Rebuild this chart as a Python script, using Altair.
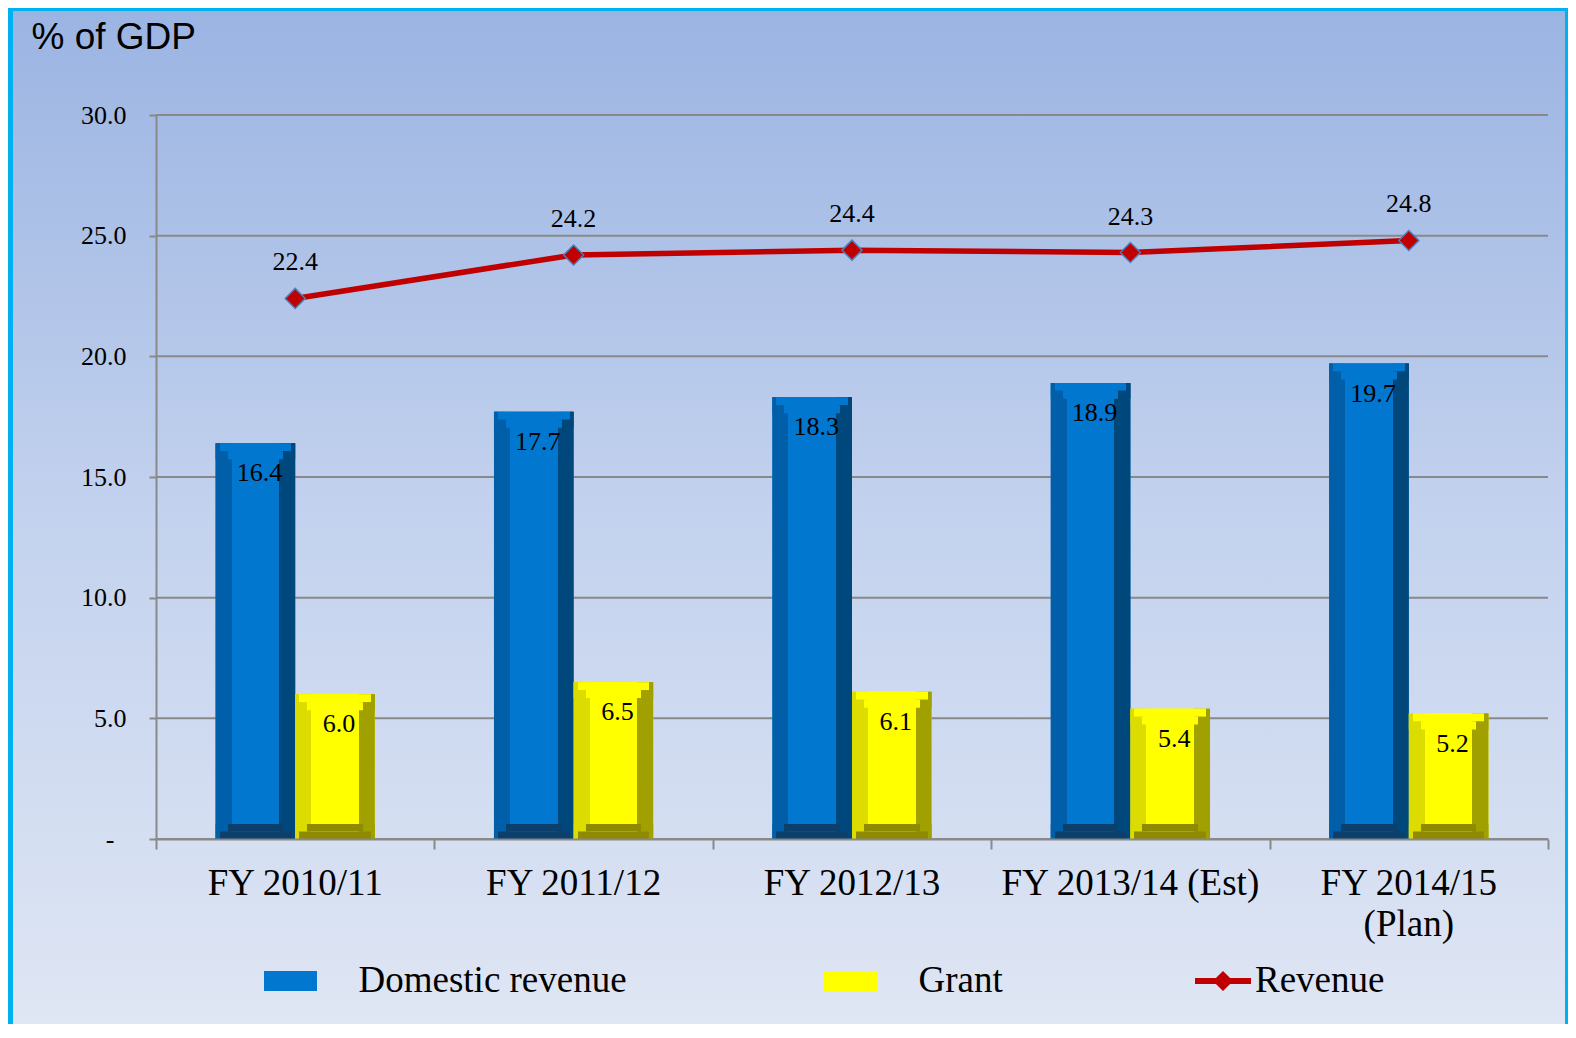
import altair as alt
import pandas as pd

# ---------------- data ----------------
categories = ["FY 2010/11", "FY 2011/12", "FY 2012/13", "FY 2013/14 (Est)", "FY 2014/15 (Plan)"]
series_names = ["Domestic revenue", "Grant"]
domestic = [16.4, 17.7, 18.3, 18.9, 19.7]
grant = [6.0, 6.5, 6.1, 5.4, 5.2]
revenue = [22.4, 24.2, 24.4, 24.3, 24.8]
line_name = "Revenue"
y_ticks = [0, 5, 10, 15, 20, 25, 30]

bars = pd.DataFrame({
    "category": categories * 2,
    "series": [series_names[0]] * len(categories) + [series_names[1]] * len(categories),
    "value": domestic + grant,
})
rev = pd.DataFrame({"category": categories, "value": revenue, "lbl": [line_name] * len(categories)})
grid = pd.DataFrame({"value": y_ticks})
bounds = pd.DataFrame({"b": list(range(len(categories) + 1))})

# ---------------- styles ----------------
W, H = 1392, 724
SERIF = "Liberation Serif"
SANS = "Liberation Sans"
GRAY = "#898989"
RED = "#c00000"
# left, face, right, bottom bevel colours per series
PALETTE = {
    series_names[0]: ("#005fa8", "#0277cf", "#00477b", "#0b3f6c"),
    series_names[1]: ("#dcdc00", "#ffff00", "#a0a000", "#8e8b00"),
}
BEVEL = 0.2      # side bevel, fraction of bar width (~16 px)
HALF = 0.33      # half bevel height in axis units (~8 px)

x_enc = alt.X(
    "category:N", sort=categories,
    scale=alt.Scale(domain=categories, paddingInner=0.428, paddingOuter=0.214),
    axis=alt.Axis(
        title=None, ticks=False, tickSize=0, grid=False,
        domainColor=GRAY, domainWidth=2,
        labelFont=SERIF, labelFontSize=37, labelColor="black",
        labelPadding=55, labelBaseline="alphabetic", labelLimit=600, labelAngle=0,
        labelLineHeight=41,
        labelExpr="datum.label == 'FY 2014/15 (Plan)' ? ['FY 2014/15', '(Plan)'] : datum.label",
        zindex=1,
    ),
)
xo_enc = alt.XOffset("series:N", sort=series_names,
                     scale=alt.Scale(domain=series_names, paddingInner=0, paddingOuter=0))
y_scale = alt.Scale(domain=[0, 30], nice=False)
y_axis = alt.Axis(
    values=y_ticks, grid=False,
    title="% of GDP", titleAngle=0, titleX=-125, titleY=-67,
    titleAlign="left", titleBaseline="alphabetic",
    titleFont=SANS, titleFontSize=37, titleFontWeight="normal", titleColor="black",
    labelExpr="datum.value == 0 ? '-' : format(datum.value, '.1f')",
    labelFont=SERIF, labelFontSize=26, labelColor="black",
    labelPadding={"condition": {"test": "datum.value == 0", "value": 35}, "value": 23},
    tickSize=7, tickWidth=2, tickColor=GRAY,
    domainColor=GRAY, domainWidth=2, zindex=1,
)
y_enc = alt.Y("value:Q", scale=y_scale, axis=y_axis)


def side_gradient(left, mid, right, f):
    return alt.LinearGradient(
        gradient="linear", x1=0, x2=1, y1=0, y2=0,
        stops=[alt.GradientStop(color=left, offset=0),
               alt.GradientStop(color=left, offset=f),
               alt.GradientStop(color=mid, offset=f),
               alt.GradientStop(color=mid, offset=1 - f),
               alt.GradientStop(color=right, offset=1 - f),
               alt.GradientStop(color=right, offset=1)])


one = alt.Data(values=[{"a": 1}])

bg_border = alt.Chart(one).mark_rect(color="#00b0f0").encode(
    x=alt.value(-148), x2=alt.value(1412), y=alt.value(-107), y2=alt.value(909))
bg_grad = alt.Chart(one).mark_rect(
    fill=alt.LinearGradient(
        gradient="linear", x1=0, x2=0, y1=0, y2=1,
        stops=[alt.GradientStop(color="#9bb4e2", offset=0),
               alt.GradientStop(color="#c3d2ee", offset=0.5),
               alt.GradientStop(color="#dfe6f4", offset=1)])
).encode(x=alt.value(-143), x2=alt.value(1409), y=alt.value(-104), y2=alt.value(909))

gridrules = alt.Chart(grid).mark_rule(color=GRAY, strokeWidth=2).encode(y=y_enc)

base = alt.Chart(bars).transform_calculate(
    t1=f"datum.value - {HALF}", t2=f"datum.value - {2 * HALF}")

bar_base = base.mark_bar().encode(
    x=x_enc, xOffset=xo_enc, y=y_enc,
    color=alt.Color("series:N",
                    scale=alt.Scale(domain=series_names,
                                    range=[PALETTE[s][1] for s in series_names]),
                    legend=alt.Legend(
                        title=None, orient="none", legendX=106.5, legendY=838,
                        direction="horizontal", symbolType="M-0.946,-0.357H0.946V0.357H-0.946Z",
                        symbolSize=3136, symbolStrokeWidth=0, labelFont=SERIF, labelFontSize=37,
                        labelColor="black", labelOffset=40, columnPadding=195,
                        padding=0, labelLimit=600)),
)

bevel_layers = []
for s in series_names:
    left, face, right, bottom = PALETTE[s]
    sb = base.transform_filter(alt.datum.series == s)
    # body with side bevels
    bevel_layers.append(sb.mark_bar(fill=side_gradient(left, face, right, BEVEL)).encode(
        x=x_enc, xOffset=xo_enc, y=y_enc))
    # top bevel (stepped trapezoid)
    bevel_layers.append(sb.mark_bar(fill=side_gradient(left, face, right, BEVEL * 0.25)).encode(
        x=x_enc, xOffset=xo_enc, y=y_enc, y2=alt.Y2("t1:Q")))
    bevel_layers.append(sb.mark_bar(fill=side_gradient(left, face, right, BEVEL * 0.75)).encode(
        x=x_enc, xOffset=xo_enc, y=alt.Y("t1:Q", scale=y_scale, axis=y_axis), y2=alt.Y2("t2:Q")))
    # bottom bevel (stepped trapezoid)
    bevel_layers.append(sb.mark_bar(fill=side_gradient(left, bottom, right, BEVEL * 0.75)).encode(
        x=x_enc, xOffset=xo_enc, y=alt.datum(2 * HALF - 0.04), y2=alt.datum(HALF - 0.02)))
    bevel_layers.append(sb.mark_bar(fill=side_gradient(left, bottom, right, BEVEL * 0.25)).encode(
        x=x_enc, xOffset=xo_enc, y=alt.datum(HALF - 0.02), y2=alt.datum(0)))

bar_labels = base.mark_text(font=SERIF, fontSize=26, baseline="alphabetic", dy=38, dx=4,
                            color="black").encode(
    x=x_enc, xOffset=xo_enc, y=y_enc, text=alt.Text("value:Q", format=".1f"))

line_path = "M-1,-0.107H1V0.107H-1Z M0,-0.36L0.36,0L0,0.36L-0.36,0Z"
rbase = alt.Chart(rev)
line = rbase.mark_line(strokeWidth=5.5).encode(
    x=x_enc, y=y_enc,
    stroke=alt.Stroke("lbl:N", scale=alt.Scale(domain=[line_name], range=[RED]),
                      legend=alt.Legend(
                          title=None, orient="none", legendX=1039, legendY=838,
                          direction="horizontal", symbolType=line_path, symbolSize=3136,
                          symbolFillColor=RED, symbolStrokeWidth=0, symbolOpacity=1,
                          labelFont=SERIF, labelFontSize=37, labelColor="black",
                          labelOffset=4, padding=0, labelLimit=600)),
)
points = rbase.mark_point(shape="diamond", size=400, filled=True, fill=RED,
                          stroke="#4a7ebb", strokeWidth=1.5, opacity=1).encode(x=x_enc, y=y_enc)
rev_labels = rbase.mark_text(font=SERIF, fontSize=26, baseline="alphabetic", dy=-28,
                             color="black").encode(
    x=x_enc, y=y_enc, text=alt.Text("value:Q", format=".1f"))

ticks = alt.Chart(bounds).mark_rule(opacity=0).encode(
    x=alt.X("b:Q", scale=alt.Scale(domain=[0, len(categories)], nice=False, zero=False),
            axis=alt.Axis(orient="bottom", values=list(range(len(categories) + 1)),
                          labels=False, domain=False, grid=False, ticks=True,
                          tickSize=10, tickWidth=2, tickColor=GRAY, title=None, zindex=1)))

main = alt.layer(bg_border, bg_grad, gridrules, bar_base, *bevel_layers,
                 bar_labels, line, points, rev_labels)

chart = alt.layer(main, ticks).resolve_scale(x="independent").properties(
    width=W, height=H, padding=0
).configure_view(strokeWidth=0)

chart.save("out.html", embed_options={"renderer": "svg", "actions": False})
